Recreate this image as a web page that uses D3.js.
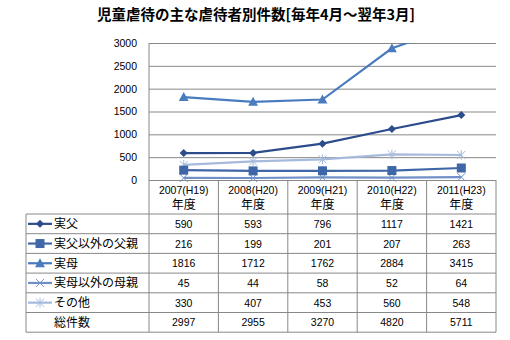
<!DOCTYPE html>
<html><head><meta charset="utf-8">
<script src="https://cdn.jsdelivr.net/npm/d3@7/dist/d3.min.js"></script>
<style>body{margin:0;background:#fff}svg{display:block}</style>
</head><body>
<svg id="c" width="510" height="340"></svg>
<script>
const categories = ["2007(H19)", "2008(H20)", "2009(H21)", "2010(H22)", "2011(H23)"];
const catSuffix = "年度";
const seriesNames = ["実父", "実父以外の父親", "実母", "実母以外の母親", "その他"];
const jitsuFu = [590, 593, 796, 1117, 1421];
const otherFather = [216, 199, 201, 207, 263];
const jitsuBo = [1816, 1712, 1762, 2884, 3415];
const otherMother = [45, 44, 58, 52, 64];
const sonota = [330, 407, 453, 560, 548];
const totalLabel = "総件数";
const totals = [2997, 2955, 3270, 4820, 5711];
const yTicks = [0, 500, 1000, 1500, 2000, 2500, 3000];
const title = "児童虐待の主な虐待者別件数[毎年4月～翌年3月]";

const seriesValues = [jitsuFu, otherFather, jitsuBo, otherMother, sonota];
const colors = ["#2d4c8c", "#3f66a7", "#4a7bbf", "#7090c8", "#a6badd"];
const markers = ["diamond", "square", "triangle", "x", "asterisk"];

const svg = d3.select("#c");
const L = 149, R = 496, T = 43, B = 180;
const x = d3.scaleBand().domain(categories).range([L, R]);
const y = d3.scaleLinear().domain([0, 3000]).range([B, T]);
const grid = "#888";
const jp = "'Noto Sans CJK JP', sans-serif";
const num = "'Liberation Sans', Arial, sans-serif";

svg.append("text").attr("x", 256).attr("y", 20).attr("text-anchor", "middle")
  .attr("font-family", jp).attr("font-size", 14.5).attr("font-weight", "bold").attr("fill", "#000").text(title);

// gridlines
const yAxis = d3.axisLeft(y).tickValues(yTicks).tickSize(-(R - L)).tickFormat(d3.format("d"));
const ga = svg.append("g").attr("transform", `translate(${L},0)`).call(yAxis);
ga.select(".domain").remove();
ga.selectAll(".tick line").attr("stroke", grid).attr("stroke-width", 1);
ga.selectAll(".tick text").attr("x", -12).attr("font-family", num).attr("font-size", 10.5).attr("fill", "#000");
svg.append("line").attr("x1", L).attr("x2", L).attr("y1", T).attr("y2", 332).attr("stroke", grid);

// clip
svg.append("clipPath").attr("id", "pc").append("rect").attr("x", L - 10).attr("y", T).attr("width", R - L + 20).attr("height", B - T + 10);

function marker(g, type, color, size) {
  const s = size;
  if (type === "diamond") g.append("path").attr("d", `M0,${-s}L${s},0L0,${s}L${-s},0Z`).attr("fill", color);
  else if (type === "square") g.append("rect").attr("x", -s).attr("y", -s).attr("width", 2 * s).attr("height", 2 * s).attr("fill", color);
  else if (type === "triangle") g.append("path").attr("d", `M0,${-s * 1.1}L${s * 1.1},${s * 0.9}L${-s * 1.1},${s * 0.9}Z`).attr("fill", color);
  else if (type === "x") g.append("path").attr("d", `M${-s},${-s}L${s},${s}M${-s},${s}L${s},${-s}`).attr("stroke", color).attr("stroke-width", 1);
  else if (type === "asterisk") g.append("path").attr("d", `M${-s},${-s}L${s},${s}M${-s},${s}L${s},${-s}M0,${-s * 1.2}L0,${s * 1.2}`).attr("stroke", color).attr("stroke-width", 1);
}
const msize = [4, 4.5, 4.5, 4, 4];

const plot = svg.append("g").attr("clip-path", "url(#pc)");
const line = d3.line().x((d, i) => x(categories[i]) + x.bandwidth() / 2).y(d => y(d));
[4, 3, 1, 0, 2].forEach(si => {
  plot.append("path").datum(seriesValues[si]).attr("d", line).attr("fill", "none")
    .attr("stroke", colors[si]).attr("stroke-width", 2.2);
  seriesValues[si].forEach((v, i) => {
    if (v > 3000) return;
    const g = plot.append("g").attr("transform", `translate(${x(categories[i]) + x.bandwidth() / 2},${y(v)})`);
    marker(g, markers[si], colors[si], msize[si]);
  });
});

// table
const rowTop = 214, rowH = 19.7, nRows = 6, tblL = 26;
const tb = svg.append("g");
// header labels
categories.forEach(c => {
  const cx = x(c) + x.bandwidth() / 2;
  tb.append("text").attr("x", cx).attr("y", 193.5).attr("text-anchor", "middle").attr("font-family", num).attr("font-size", 10.5).text(c);
  tb.append("text").attr("x", cx).attr("y", 209).attr("text-anchor", "middle").attr("font-family", jp).attr("font-size", 12).text(catSuffix);
});
// vertical column lines
categories.forEach(c => {
  tb.append("line").attr("x1", x(c) + x.bandwidth()).attr("x2", x(c) + x.bandwidth()).attr("y1", B).attr("y2", rowTop + rowH * nRows).attr("stroke", grid);
});
// horizontal lines
for (let r = 0; r <= nRows; r++) {
  tb.append("line").attr("x1", tblL).attr("x2", R).attr("y1", rowTop + r * rowH).attr("y2", rowTop + r * rowH).attr("stroke", grid);
}
tb.append("line").attr("x1", tblL).attr("x2", tblL).attr("y1", rowTop).attr("y2", rowTop + rowH * nRows).attr("stroke", grid);

const rows = seriesValues.concat([totals]);
const rowNames = seriesNames.concat([totalLabel]);
rows.forEach((vals, r) => {
  const cy = rowTop + r * rowH + rowH / 2;
  if (r < 5) {
    tb.append("line").attr("x1", 28).attr("x2", 52).attr("y1", cy).attr("y2", cy).attr("stroke", colors[r]).attr("stroke-width", 2.2);
    const g = tb.append("g").attr("transform", `translate(40,${cy})`);
    marker(g, markers[r], colors[r], msize[r]);
  }
  tb.append("text").attr("x", 54).attr("y", cy + 4.5).attr("font-family", jp).attr("font-size", 12).text(rowNames[r]);
  vals.forEach((v, i) => {
    tb.append("text").attr("x", x(categories[i]) + x.bandwidth() / 2).attr("y", cy + 4).attr("text-anchor", "middle")
      .attr("font-family", num).attr("font-size", 10.5).text(v);
  });
});
</script>
</body></html>
